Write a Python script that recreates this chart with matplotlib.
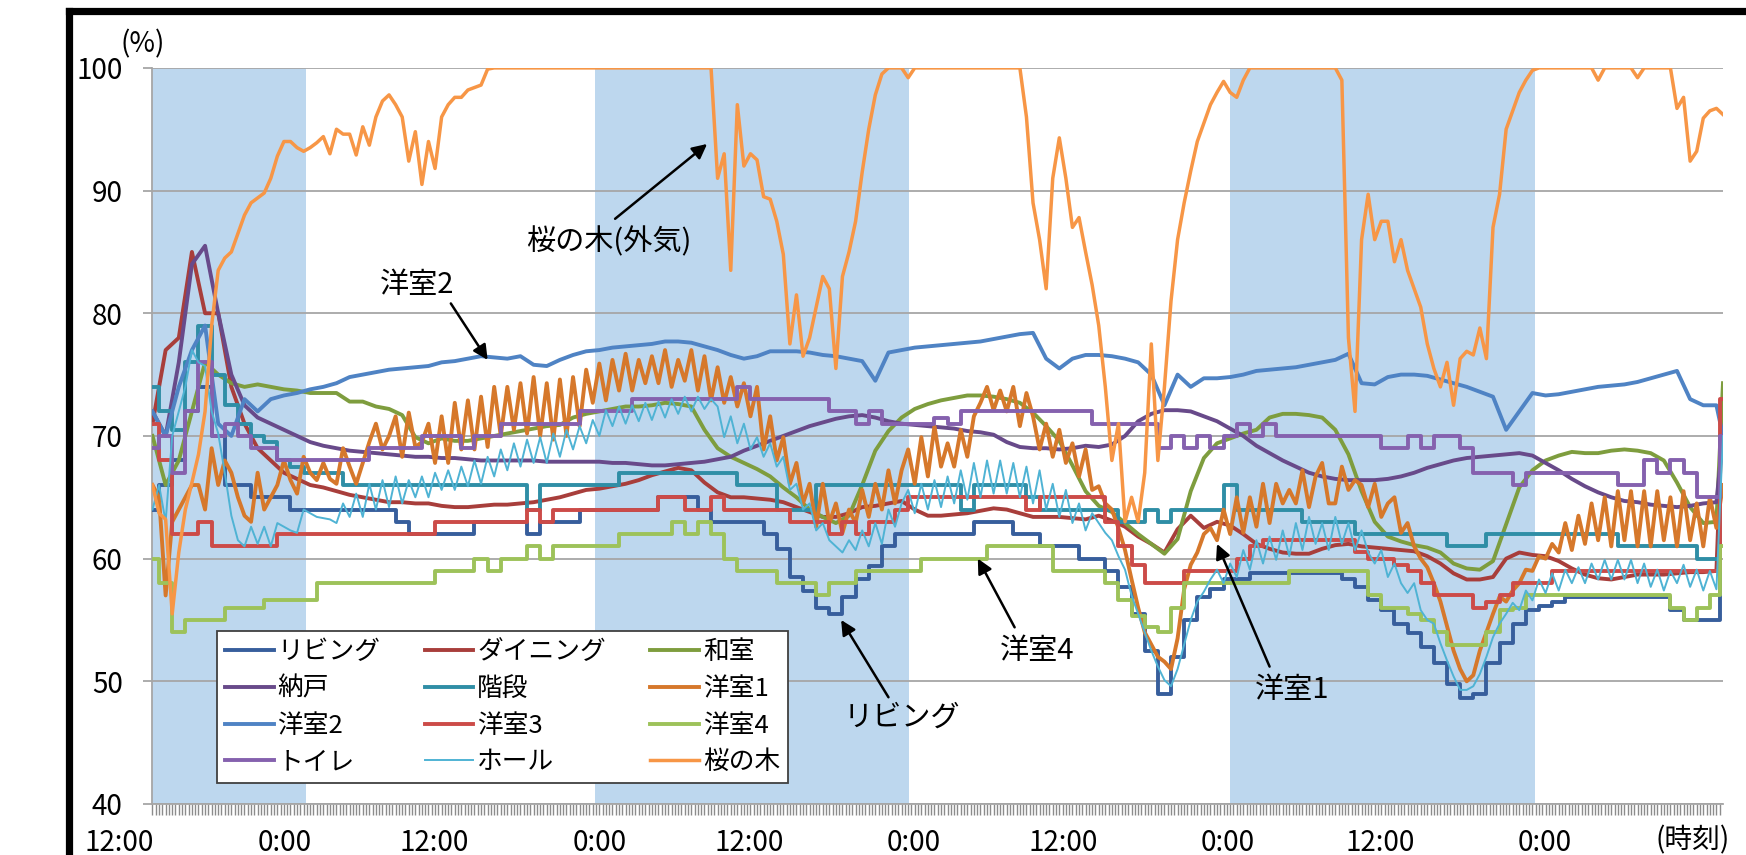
import numpy as np
import matplotlib
matplotlib.use("Agg")
import matplotlib.pyplot as plt
import matplotlib.transforms as mtransforms
from matplotlib.lines import Line2D

plt.rcParams['font.family'] = ['Noto Sans CJK JP', 'DejaVu Sans']

# ---------------- data (hours from the left edge of the plot) ----------------
hours = np.append(np.arange(120.0), 119.5)      # hourly samples + final sample
half_hours = np.arange(240) * 0.5               # half-hourly samples

living = [
    64, 66, 68, 72, 74, 70, 66, 66, 65, 65, 65, 64,
    64, 64, 64, 64, 64, 64, 64, 63, 62, 62, 62, 62,
    62, 63, 63, 63, 63, 62, 63, 63, 63, 64, 64, 64,
    64, 64, 64, 65, 65, 65, 64, 63, 63, 63, 63, 62,
    60.8, 58.5, 57.4, 56, 55.5, 56.9, 58.3, 59.4, 61, 62, 62, 62,
    62, 62, 62, 63, 63, 63, 62, 62, 61, 61, 61, 60,
    60, 59, 57.7, 55.5, 52.5, 49, 52, 55, 56.9, 57.5, 58.3, 58.3,
    58.8, 58.8, 58.8, 58.8, 58.8, 58.8, 58.8, 58.3, 57.7, 56.6, 55.8, 54.7,
    53.9, 52.8, 51.5, 49.8, 48.6, 49, 51.5, 53.1, 54.7, 55.8, 56.1, 56.5,
    56.9, 56.9, 56.9, 56.9, 56.9, 56.9, 56.9, 56.9, 55.8, 55, 55, 55,
    70]

dining = [
    71, 77, 78, 85, 80, 80, 74, 71, 69, 68, 67, 66.5,
    66, 65.8, 65.5, 65.2, 65, 64.8, 64.6, 64.6, 64.5, 64.5, 64.3, 64.2,
    64.2, 64.3, 64.4, 64.4, 64.5, 64.6, 64.8, 65, 65.3, 65.6, 65.7, 65.9,
    66.1, 66.4, 66.8, 67.1, 67.4, 67.2, 66.2, 65.4, 65, 65, 64.9, 64.8,
    64.6, 64.2, 63.8, 63.4, 63.4, 63.7, 64.2, 64.3, 64.5, 64.7, 64, 63.5,
    63.5, 63.6, 63.7, 63.9, 64.1, 64, 63.7, 63.4, 63.4, 63.4, 63.3, 63.2,
    63.5, 63.1, 62.6, 61.8, 61.2, 60.5, 62.4, 63.5, 62.5, 63, 62.7, 62,
    61.2, 60.8, 60.5, 60.4, 60.4, 60.8, 61.1, 61.2, 61, 60.9, 60.8, 60.7,
    60.6, 60.2, 59.6, 58.8, 58.3, 58.3, 58.5, 60, 60.5, 60.3, 60.2, 59.8,
    59.2, 58.7, 58.4, 58.3, 58.5, 58.7, 58.7, 58.7, 58.8, 58.9, 58.9, 59,
    73.2]

washitsu = [
    70, 66, 68, 72, 76, 75, 74.3, 74, 74.2, 74, 73.8, 73.7,
    73.5, 73.5, 73.5, 72.8, 72.8, 72.4, 72.2, 71.7, 69.9, 69.4, 69.8, 69.6,
    69.6, 69.8, 70, 70.2, 70.4, 70.6, 70.8, 70.9, 71.5, 71.8, 72, 72.2,
    72.4, 72.4, 72.5, 72.7, 72.6, 72.4, 70.5, 69, 68.3, 67.8, 67.3, 66.7,
    65.8, 65, 64, 63.4, 62.9, 63.5, 66, 68.8, 70.4, 71.5, 72.2, 72.6,
    72.9, 73.1, 73.3, 73.3, 73.2, 73, 72.7, 71.9, 70.8, 69.6, 67.6, 65.5,
    64.3, 63.8, 62.9, 62, 61.2, 60.4, 61.6, 65.5, 68.2, 69.4, 69.8, 70.2,
    70.5, 71.5, 71.8, 71.8, 71.7, 71.5, 70.5, 68.5, 65.5, 63, 61.8, 61.4,
    61.1, 60.9, 60.5, 59.6, 59.2, 59.1, 59.8, 62.8, 65.8, 67.2, 68, 68.4,
    68.7, 68.6, 68.6, 68.8, 68.9, 68.8, 68.6, 68, 66.2, 64.2, 62.9, 63,
    74.3]

nando = [
    72, 70, 76, 84, 85.5, 80, 75, 72.5, 71.5, 71, 70.5, 70,
    69.5, 69.2, 69, 68.8, 68.7, 68.6, 68.5, 68.4, 68.3, 68.3, 68.2, 68.2,
    68.1, 68, 68, 68, 68, 68, 67.9, 67.9, 67.9, 67.9, 67.9, 67.8,
    67.8, 67.7, 67.6, 67.6, 67.7, 67.8, 67.9, 68.1, 68.3, 68.8, 69.2, 69.6,
    70, 70.4, 70.8, 71.1, 71.4, 71.6, 71.7, 71.5, 71.2, 71, 70.9, 70.8,
    70.7, 70.6, 70.4, 70.3, 70.1, 69.5, 69.1, 69, 69, 68.9, 69, 69.2,
    69.1, 69.3, 70, 71.2, 71.8, 72.1, 72.1, 72, 71.6, 71.2, 70.6, 70,
    69.2, 68.6, 68, 67.5, 67, 66.7, 66.5, 66.4, 66.4, 66.4, 66.5, 66.7,
    67, 67.4, 67.7, 68, 68.2, 68.3, 68.4, 68.5, 68.6, 68.4, 67.8, 67.2,
    66.5, 65.9, 65.4, 65, 64.7, 64.6, 64.4, 64.3, 64.2, 64.3, 64.5, 64.6,
    70]

kaidan = [
    74, 72, 70.5, 76, 79, 75, 72.5, 71, 70, 69.5, 68, 67.5,
    67, 67, 67, 66, 66, 66, 66, 66, 66, 66, 66, 66,
    66, 66, 66, 66, 66, 64, 66, 66, 66, 66, 66, 66,
    67, 67, 67, 67, 67, 67, 67, 67, 67, 66, 66, 66,
    64, 64, 64, 66, 66, 66, 66, 66, 66, 66, 66, 66,
    66, 66, 64, 66, 66, 66, 66, 65, 64, 64, 64, 64,
    64, 64, 63, 63, 64, 63, 64, 64, 64, 64, 66, 64,
    64, 64, 64, 64, 63, 63, 63, 63, 62, 62, 62, 62,
    62, 62, 62, 61, 61, 61, 62, 62, 62, 62, 62, 62,
    62, 62, 62, 62, 61, 61, 61, 61, 61, 61, 60, 60,
    70]

yoshitsu1 = [
    66, 65, 57, 63, 64, 65, 66, 66, 64, 69, 66, 68,
    67, 65, 63.5, 63, 67, 64, 65, 66, 68, 66.4, 65.3, 68.3,
    67, 66.4, 67.8, 66.5, 66.1, 69, 67.5, 66.1, 67.8, 69.5, 71, 68.9,
    70, 71.6, 68.3, 71.9, 69.1, 69.5, 71, 67.8, 71.6, 67.8, 72.7, 68.9,
    72.9, 68.9, 73.2, 69.1, 74, 70, 74, 70.5, 74.3, 70.2, 74.8, 70,
    74.3, 69.7, 74.6, 70, 74.8, 70.8, 75.4, 72.7, 75.9, 72.9, 76.2, 73.7,
    76.7, 73.7, 76.2, 74.3, 76.5, 74.3, 77, 74, 76.2, 74.5, 77, 73.7,
    76.5, 72.9, 75.6, 72.7, 74.8, 72.4, 74.3, 71.6, 74, 68.9, 71.6, 68,
    69.9, 66.1, 67.8, 64.5, 66.1, 62.6, 66.1, 62.9, 64.5, 62.1, 64, 62.9,
    65.6, 63.4, 66.1, 64, 67.2, 64.5, 67.2, 68.9, 66.1, 69.9, 66.7, 70.8,
    67.5, 69.4, 67.5, 70.5, 68.3, 71.6, 72.7, 74, 72.1, 73.7, 72, 74,
    70.8, 73.5, 71.6, 68.9, 71, 68.3, 70.5, 67.8, 69.4, 66.7, 68.9, 65.6,
    65.9, 64.5, 64, 62.5, 60.7, 58.3, 56, 54, 53, 52, 51.6, 51,
    53.5, 57.5, 59.5, 60.5, 62, 62.5, 61.5, 64, 62, 65, 62.1, 65,
    62.6, 66.1, 62.9, 66.1, 64.5, 65.6, 64.5, 67.2, 64.2, 66.7, 67.8, 64.5,
    64.5, 67.5, 65.6, 66.4, 66, 64.2, 66.1, 63.4, 64.5, 65, 62.1, 62.9,
    61, 60, 59.3, 58, 56.5, 54.5, 52.5, 51, 50, 50.5, 52.5, 54,
    55.5, 56.9, 56.5, 57.4, 58, 59.1, 59, 60.2, 60, 61.2, 60.5, 62.9,
    60.7, 63.5, 61.2, 64.5, 61.5, 65, 61, 65.5, 61.5, 65.5, 61, 65.5,
    61, 65.5, 61.5, 65, 61, 65.5, 61.5, 64.5, 61, 65, 62.5, 66]

yoshitsu2 = [
    72, 70, 74, 77, 79, 71, 70, 73, 72, 73, 73.3, 73.5,
    73.8, 74, 74.3, 74.8, 75, 75.2, 75.4, 75.5, 75.6, 75.7, 76, 76.1,
    76.3, 76.5, 76.4, 76.3, 76.5, 75.8, 75.7, 76.2, 76.6, 76.9, 77, 77.2,
    77.3, 77.4, 77.5, 77.7, 77.7, 77.6, 77.3, 77, 76.6, 76.3, 76.5, 76.9,
    76.9, 76.9, 76.8, 76.6, 76.5, 76.3, 76.1, 74.5, 76.8, 77, 77.2, 77.3,
    77.4, 77.5, 77.6, 77.7, 77.9, 78.1, 78.3, 78.4, 76.3, 75.5, 76.3, 76.6,
    76.6, 76.5, 76.3, 76, 75, 72.5, 75, 74, 74.7, 74.7, 74.8, 75,
    75.3, 75.4, 75.5, 75.6, 75.8, 76, 76.2, 76.7, 74.3, 74.2, 74.8, 75,
    75, 74.9, 74.6, 74.3, 74, 73.6, 73.2, 70.5, 72, 73.5, 73.3, 73.4,
    73.6, 73.8, 74, 74.1, 74.2, 74.4, 74.7, 75, 75.3, 73, 72.5, 72.5,
    70]

yoshitsu3 = [
    71, 68, 62, 62, 63, 61, 61, 61, 61, 61, 62, 62,
    62, 62, 62, 62, 62, 62, 62, 62, 62, 62, 63, 63,
    63, 63, 63, 63, 63, 64, 63, 64, 64, 64, 64, 64,
    64, 64, 64, 65, 65, 64, 64, 65, 64, 64, 64, 64,
    64, 63, 63, 63, 62, 63, 62, 63, 63, 64, 65, 65,
    65, 65, 65, 65, 65, 65, 65, 64, 65, 65, 65, 65,
    65, 63, 61, 59.5, 58, 58, 58, 59, 59, 59, 59, 60,
    61, 61.5, 61.5, 61.5, 61.5, 61.5, 61.5, 61.5, 60.5, 60, 60, 59.5,
    59, 58, 57, 57, 57, 56, 56.5, 57, 58, 58, 58, 59,
    59, 59, 59, 59, 59, 59, 59, 59, 59, 59, 59, 59,
    73]

yoshitsu4 = [
    60, 58, 54, 55, 55, 55, 56, 56, 56, 56.6, 56.6, 56.6,
    56.6, 58, 58, 58, 58, 58, 58, 58, 58, 58, 59, 59,
    59, 60, 59, 60, 60, 61, 60, 61, 61, 61, 61, 61,
    62, 62, 62, 62, 63, 62, 63, 62, 60, 59, 59, 59,
    58, 58, 58, 57, 58, 58, 59, 59, 59, 59, 59, 60,
    60, 60, 60, 60, 61, 61, 61, 61, 61, 59, 59, 59,
    59, 58, 56.6, 55.3, 54.4, 54, 56, 58, 58, 58, 58, 58,
    58, 58, 58, 59, 59, 59, 59, 59, 59, 57, 56, 56,
    55.5, 55, 54, 53, 53, 53, 54, 55.8, 56, 57, 57, 57,
    57, 57, 57, 57, 57, 57, 57, 57, 56, 55, 56, 57,
    61]

toilet = [
    69, 70, 67, 72, 76, 70, 71, 70, 69, 69, 68, 68,
    68, 68, 68, 68, 68, 69, 69, 69, 69, 70, 70, 70,
    69, 70, 70, 71, 71, 71, 71, 71, 71, 72, 72, 72,
    72, 73, 73, 73, 73, 73, 73, 73, 73, 74, 73, 73,
    73, 73, 73, 73, 72, 72, 71, 72, 71, 71, 71, 71,
    71.5, 71, 72, 72, 72, 72, 72, 72, 72, 72, 72, 72,
    71, 71, 71, 71, 71, 69, 70, 69, 70, 69, 70, 71,
    70, 71, 70, 70, 70, 70, 70, 70, 70, 70, 69, 69,
    70, 69, 70, 70, 69, 67, 67, 67, 66, 67, 67, 67,
    67, 67, 67, 67, 66, 66, 68, 67, 68, 67, 65, 65,
    70]

hall = [
    64, 66, 63, 70, 72, 74, 77, 76, 75.7, 72, 70.2, 67,
    63.5, 61.5, 61, 62.6, 61.2, 62.6, 61, 62.9, 62.6, 62.3, 62.1, 64,
    63.7, 63.4, 63.3, 63.2, 62.9, 64.5, 63.4, 65.3, 63.4, 66.1, 64, 66.4,
    64.2, 66.7, 64.5, 66.4, 65, 66.7, 65, 67, 65.6, 67.2, 65.6, 67.5,
    65.9, 68, 66.1, 68.3, 66.7, 68.9, 67.2, 69.4, 67.5, 69.7, 67.8, 69.9,
    67.8, 70.2, 68.3, 70.5, 68.9, 70.8, 69.4, 71.3, 70, 72.1, 70.8, 72.4,
    71, 72.5, 71.2, 72.7, 71.3, 72.8, 71.5, 73, 71.8, 73.2, 72, 73.2,
    72.2, 73, 72.4, 69.9, 71.6, 69.4, 71, 68.9, 69.9, 68.3, 69.4, 67.5,
    68.3, 65.6, 66.1, 64, 64.5, 62.3, 62.9, 61.5, 61, 60.5, 61.5, 60.7,
    62.3, 61, 62.9, 61.2, 64, 62.6, 64.5, 65.6, 63.7, 66.1, 64, 66.4,
    64.2, 66.7, 64.5, 67.2, 64.8, 67.8, 65, 68, 65.3, 68, 65.3, 67.8,
    65, 67.5, 64.5, 67.2, 64, 66.1, 63.4, 65.6, 62.9, 64.5, 62.3, 63.7,
    62.9, 62.1, 61.5, 60.2, 59.1, 57, 55.5, 54, 52.5, 51.2, 50.1, 49.6,
    51, 53, 55, 56.5, 57.3, 58.3, 59.1, 58, 59.6, 58.5, 60.7, 59.1,
    61.5, 59.6, 61.8, 59.9, 62.3, 60.2, 62.9, 60.7, 63.4, 61.2, 62.9, 60.7,
    63.4, 61.2, 62.9, 60.7, 62.3, 60.5, 59.6, 60.7, 58.5, 59.6, 58, 57.2,
    58, 55.8, 55, 54.7, 53.1, 51.7, 50.4, 49.3, 49.3, 49.6, 50.6, 52,
    53.6, 54.7, 55.5, 56.4, 55.8, 57.4, 56.6, 58.3, 57.2, 58.8, 57.4, 59.1,
    58, 59.3, 58, 59.6, 58.3, 59.9, 58.3, 59.9, 58.3, 59.9, 58, 59.6,
    57.7, 59.1, 57.4, 59, 58, 59.5, 57.7, 59.1, 57.4, 59, 57.5, 70]

sakura = [
    66, 63.7, 63.2, 55.5, 60.5, 64, 66.2, 68.5, 72, 79, 83.5, 84.5,
    85, 86.5, 88, 89, 89.4, 89.8, 91, 92.8, 94, 94, 93.5, 93.2,
    93.5, 93.9, 94.4, 93, 95, 94.6, 94.6, 92.9, 95.2, 93.7, 96, 97.3,
    97.8, 97, 96, 92.4, 94.8, 90.5, 94, 91.8, 96, 97, 97.6, 97.6,
    98.2, 98.4, 98.6, 99.9, 100, 100, 100, 100, 100, 100, 100, 100,
    100, 100, 100, 100, 100, 100, 100, 100, 100, 100, 100, 100,
    100, 100, 100, 100, 100, 100, 100, 100, 100, 100, 100, 100,
    100, 100, 91, 93, 83.5, 97, 92, 93, 92.5, 89.5, 89.3, 87.5,
    84.8, 77.5, 81.5, 76.5, 78, 80.5, 83, 82, 75.5, 83, 85, 87.5,
    91.5, 95, 97.8, 99.5, 100, 100, 100, 99.2, 100, 100, 100, 100,
    100, 100, 100, 100, 100, 100, 100, 100, 100, 100, 100, 100,
    100, 96, 89, 86, 82, 91, 94.3, 91, 87, 87.8, 85, 82.3,
    79, 74, 68, 71, 63, 65, 63, 67, 77.5, 68, 74, 81,
    86, 89, 91.6, 94, 95.5, 97, 98, 98.9, 98, 97.6, 99, 100,
    100, 100, 100, 100, 100, 100, 100, 100, 100, 100, 100, 100,
    100, 99, 78, 72, 86, 89.7, 86, 87.5, 87.5, 84.2, 86, 83.5,
    82, 80.5, 77.5, 75.5, 74, 76, 72.5, 76.3, 76.9, 76.6, 78.8, 76.3,
    87, 89.7, 95, 96.5, 98, 99, 99.8, 100, 100, 100, 100, 100,
    100, 100, 100, 100, 99, 100, 100, 100, 100, 100, 99.2, 100,
    100, 100, 100, 100, 96.7, 97.6, 92.4, 93.2, 95.9, 96.5, 96.7, 96.2]

# shaded periods (hours)
shade_periods = [(0.0, 11.7), (33.7, 57.6), (82.0, 105.2)]

# x-axis category labels (hour positions) and texts
xlabel_pos = [-2.5, 10.05, 21.4, 34.0, 45.4, 57.9, 69.3, 81.8, 93.4, 105.9]
xlabel_txt = ['12:00', '0:00', '12:00', '0:00', '12:00', '0:00',
              '12:00', '0:00', '12:00', '0:00']

# series: label, values, x, color, linewidth, drawstyle
series = [
    ('リビング', living, hours, '#375E9C', 2.8, 'steps-mid'),
    ('ダイニング', dining, hours, '#A83E3B', 2.8, 'default'),
    ('和室', washitsu, hours, '#7E9D3E', 2.8, 'default'),
    ('納戸', nando, hours, '#684A8A', 2.8, 'default'),
    ('階段', kaidan, hours, '#2F8EA6', 2.8, 'steps-mid'),
    ('洋室1', yoshitsu1, half_hours, '#D6782B', 2.8, 'default'),
    ('洋室2', yoshitsu2, hours, '#4F83C4', 2.8, 'default'),
    ('洋室3', yoshitsu3, hours, '#CC4B48', 2.8, 'steps-mid'),
    ('洋室4', yoshitsu4, hours, '#9DC25A', 2.8, 'steps-mid'),
    ('トイレ', toilet, hours, '#8561AE', 2.8, 'steps-mid'),
    ('ホール', hall, half_hours, '#4FB3D4', 1.4, 'default'),
    ('桜の木', sakura, half_hours, '#F79646', 2.5, 'default'),
]

# ---------------- figure ----------------
fig = plt.figure(figsize=(17.46, 8.55), dpi=100)
ax = fig.add_axes([0.08734, 0.05965, 0.89948, 0.86094])

for a, b in shade_periods:
    ax.axvspan(a, b, color='#BDD7EE', lw=0, zorder=0)

handles = []
for label, vals, xs, col, lw, ds in series:
    ln, = ax.plot(xs, vals, color=col, lw=lw, drawstyle=ds, label=label,
                  solid_joinstyle='round', zorder=3)
    handles.append(ln)

ax.set_xlim(0, 119.5)
ax.set_ylim(40, 100)
ax.set_yticks(np.arange(40, 101, 10))
ax.yaxis.grid(True, color='#A6A6A6', lw=1.3)
ax.set_axisbelow(True)
for s in ['top', 'right']:
    ax.spines[s].set_visible(False)
ax.spines['left'].set_color('#A6A6A6')
ax.spines['left'].set_linewidth(1.3)
ax.spines['bottom'].set_color('#A6A6A6')
ax.spines['bottom'].set_linewidth(1.3)
ax.tick_params(axis='y', which='major', length=6.5, width=1.3, color='#A6A6A6',
               pad=15, labelsize=20)
ax.set_xticks([])
ax.set_xticks(np.arange(0, 119.5, 0.25), minor=True)
ax.tick_params(axis='x', which='minor', length=8, width=1.0, color='#8C8C8C',
               direction='out')

trans = mtransforms.blended_transform_factory(ax.transData, ax.transAxes)
for xp, tx in zip(xlabel_pos, xlabel_txt):
    ax.text(xp, -0.053, tx, transform=trans, ha='center', va='center',
            fontsize=20, clip_on=False)
ax.text(117.2, -0.05, '(時刻)', transform=trans, ha='center', va='center',
        fontsize=20, clip_on=False)
ax.text(-0.006, 1.032, '(%)', transform=ax.transAxes, ha='center', va='center',
        fontsize=20)

# annotations
ann_kw = dict(arrowstyle='-|>', color='black', lw=1.8, mutation_scale=22,
              shrinkA=0, shrinkB=0)
annots = [
    ('桜の木(外気)', (34.7, 85.8), (35.2, 87.7), (42.2, 93.8)),
    ('洋室2', (20.1, 82.3), (22.7, 80.8), (25.5, 76.2)),
    ('リビング', (57.0, 47.0), (56.0, 48.7), (52.4, 55.0)),
    ('洋室4', (67.3, 52.5), (65.6, 54.4), (62.8, 60.0)),
    ('洋室1', (86.7, 49.3), (85.0, 51.2), (81.0, 61.2)),
]
for txt, tpos, tail, tip in annots:
    ax.text(tpos[0], tpos[1], txt, ha='center', va='center', fontsize=21,
            zorder=6)
    ax.annotate('', xy=tip, xytext=tail, arrowprops=ann_kw, zorder=6)

# legend (row-major order as in the reference)
order = [0, 3, 6, 9, 1, 4, 7, 10, 2, 5, 8, 11]
leg = ax.legend([handles[i] for i in order], [series[i][0] for i in order],
                ncol=3, loc='lower left',
                bbox_to_anchor=(0.0411, 0.0285, 0.3635, 0.2052),
                mode='expand', borderaxespad=0, fontsize=18.5,
                handlelength=1.9, handletextpad=0.15, columnspacing=0.8,
                labelspacing=0.42, borderpad=0.3, frameon=True,
                fancybox=False, framealpha=1, edgecolor='#404040')
leg.get_frame().set_linewidth(1.3)
leg.set_zorder(10)

# outer black frame (partially visible)
fig.add_artist(Line2D([69 / 1746, 69 / 1746], [-0.01, 1 - 11 / 855],
                      transform=fig.transFigure, color='black', lw=5.2,
                      solid_capstyle='projecting'))
fig.add_artist(Line2D([69 / 1746, 1.01], [1 - 11 / 855, 1 - 11 / 855],
                      transform=fig.transFigure, color='black', lw=5.2,
                      solid_capstyle='projecting'))

fig.savefig('out.png', dpi=100)
